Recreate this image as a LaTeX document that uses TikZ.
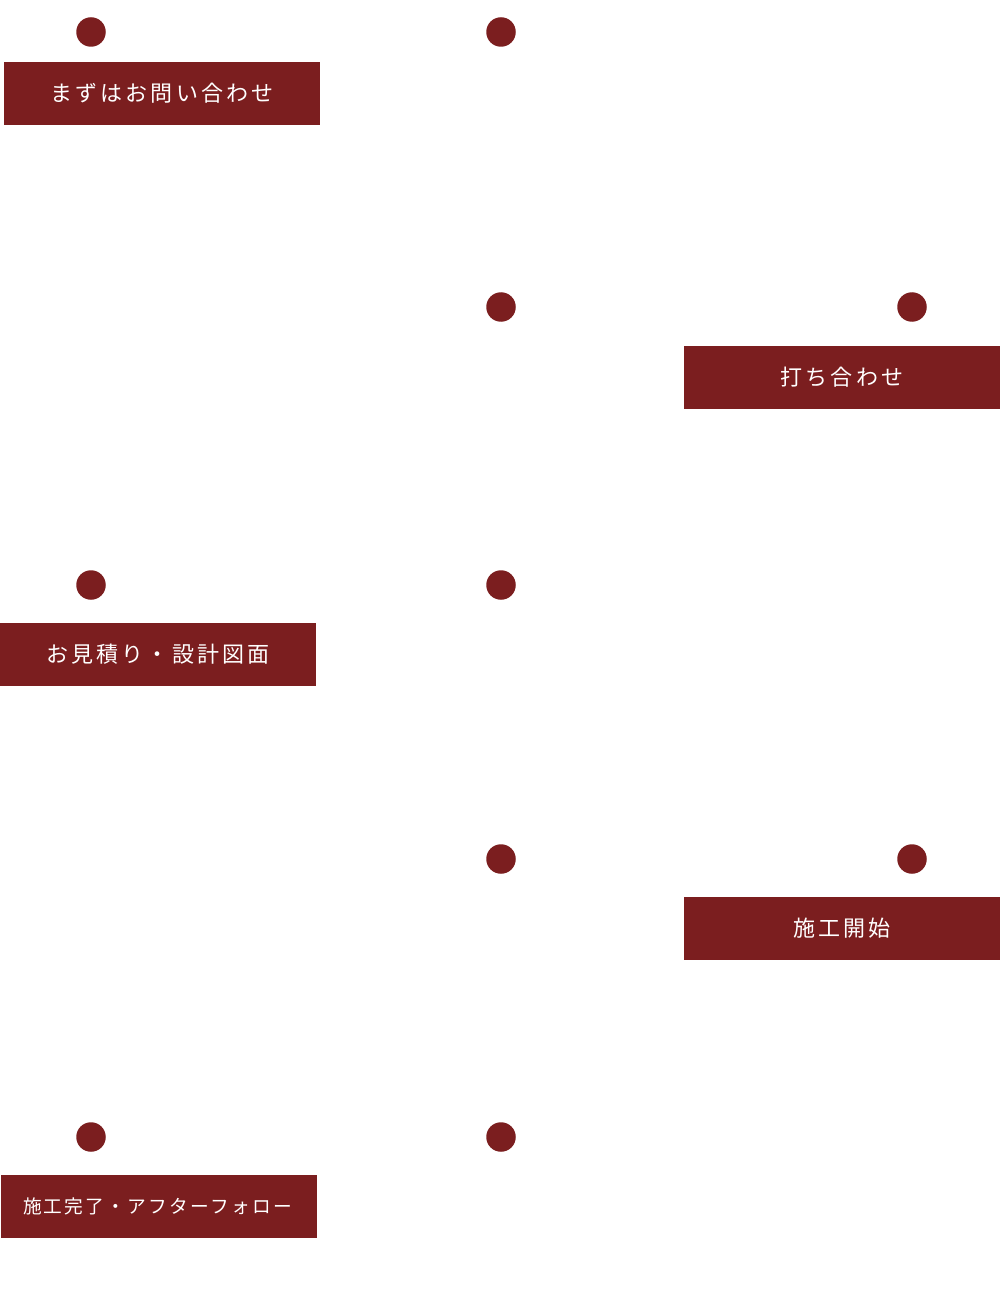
\documentclass[tikz,border=0pt]{standalone}
\usepackage{fontspec}
\newfontfamily\jp[LetterSpace=14]{Noto Sans CJK JP}
\newfontfamily\jpsmall[LetterSpace=12]{Noto Sans CJK JP}
\definecolor{wine}{HTML}{7B1E1F}
\begin{document}
\begin{tikzpicture}[x=1pt,y=-1pt,
  dot/.style={circle,fill=wine,draw=none,minimum size=29.5pt,inner sep=0pt},
  stepbox/.style={fill=wine,draw=none,minimum width=316pt,minimum height=63pt,inner sep=0pt,text=white,font=\jp\fontsize{22pt}{22pt}\selectfont},
  smallbox/.style={stepbox,font=\jpsmall\fontsize{18.7pt}{18.7pt}\selectfont}]
\useasboundingbox (0,0) rectangle (1000,1313);
\node[dot] (d1) at (91,32) {};
\node[dot] (d2) at (501,32) {};
\node[dot] (d3) at (501,307) {};
\node[dot] (d4) at (912,307) {};
\node[dot] (d5) at (91,585) {};
\node[dot] (d6) at (501,585) {};
\node[dot] (d7) at (501,859) {};
\node[dot] (d8) at (912,859) {};
\node[dot] (d9) at (91,1137) {};
\node[dot] (d10) at (501,1137) {};
\node[stepbox] (b1) at (162,93.5) {まずはお問い合わせ};
\node[stepbox] (b2) at (842,377.5) {打ち合わせ};
\node[stepbox] (b3) at (158,654.5) {お見積り・設計図面};
\node[stepbox] (b4) at (842,928.5) {施工開始};
\node[smallbox] (b5) at (158.5,1206.5) {\hspace*{-2pt}施工完了・アフターフォロー};
\end{tikzpicture}
\end{document}
